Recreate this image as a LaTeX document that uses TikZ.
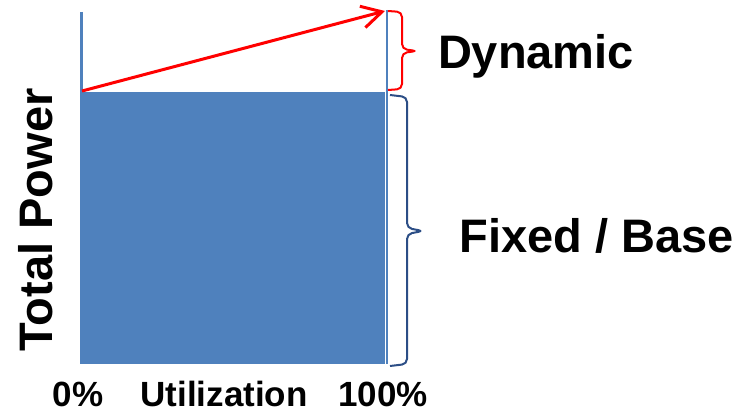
\documentclass[tikz,border=0pt]{standalone}
\usepackage{fontspec}
\setmainfont{Liberation Sans}
\usetikzlibrary{arrows.meta}
\definecolor{barblue}{HTML}{4F81BD}
\definecolor{bracedark}{HTML}{2C4E86}
\tikzset{
  bigtext/.style={font=\bfseries\fontsize{47}{50}\selectfont, inner sep=0pt},
  axistext/.style={font=\bfseries\fontsize{35}{40}\selectfont, inner sep=0pt, anchor=base, text depth=0pt},
  bracestyle/.style={line width=2pt, rounded corners=5pt},
}
\begin{document}
\begin{tikzpicture}[x=1pt,y=-1pt]
\useasboundingbox (0,0) rectangle (740,412);
% coordinates
\coordinate (axtop) at (81.5,12);
\coordinate (axbot) at (81.5,364);
\coordinate (rtop) at (387,10);
\coordinate (rbot) at (387,364);
\coordinate (base) at (82,91);
\coordinate (peak) at (385,11);
% fixed base rectangle
\fill[barblue] (80,92) rectangle (385,364);
% axes
\draw[barblue, line width=2.5pt] (axtop) -- (axbot);
\draw[barblue, line width=1.5pt] (rtop) -- (rbot);
% dynamic arrow
\draw[red, line width=3pt, -{Straight Barb[length=20pt,width=22pt,line width=3pt]}] (base) -- (peak);
% red brace
\draw[red, bracestyle] (388,11) -- (402,12) -- (402,49) -- (417,51) -- (402,53) -- (402,89) -- (388,90);
% dark brace
\draw[bracedark, bracestyle] (390,95) -- (407,97) -- (407,228) -- (423,231) -- (407,234) -- (407,364) -- (390,366);
% labels
\node[bigtext] (dyn) at (536,56) {Dynamic};
\node[bigtext] (fixed) at (597,236) {Fixed / Base};
\node[bigtext, rotate=90] (total) at (36,220) {Total Power};
\node[axistext] (p0) at (78,406) {0\%};
\node[axistext] (util) at (224,406) {Utilization};
\node[axistext] (p100) at (383,406) {100\%};
\end{tikzpicture}
\end{document}
